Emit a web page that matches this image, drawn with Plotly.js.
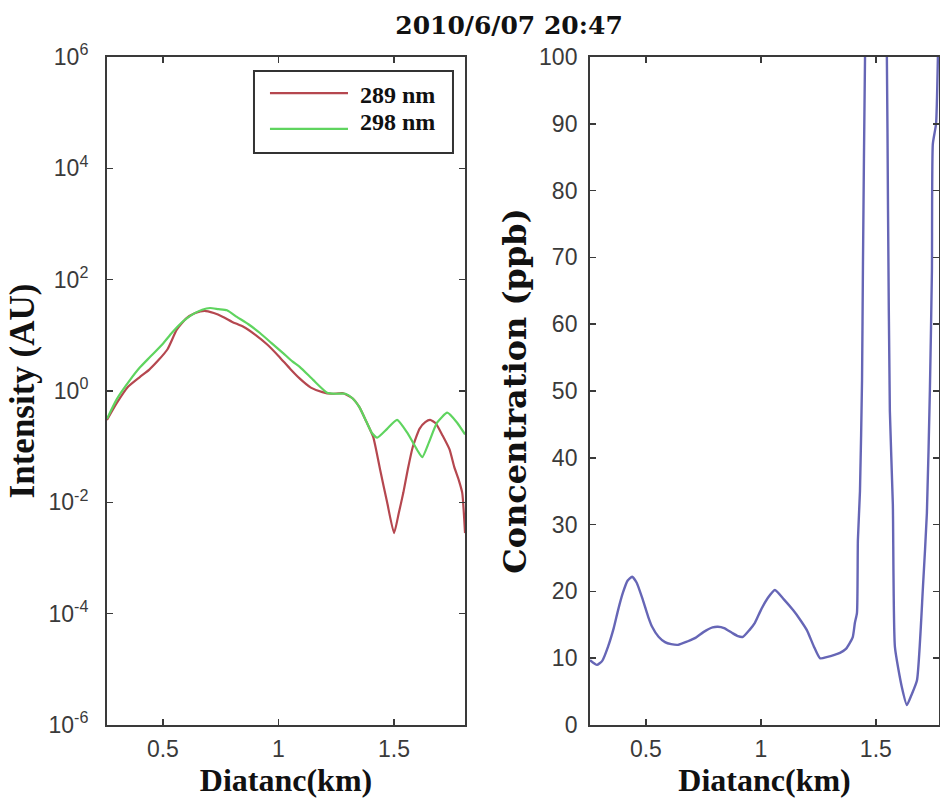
<!DOCTYPE html>
<html>
<head>
<meta charset="utf-8">
<script src="https://cdn.plot.ly/plotly-3.0.1.min.js"></script>
<style>html,body{margin:0;padding:0;background:#fff;}#chart{width:940px;height:802px;}</style>
</head>
<body>
<div id="chart"></div>
<script>
// ---- Data ----
const chartTitle = '2010/6/07 20:47';

// Left panel: intensity (AU) vs distance (km), log scale
const dist289 = [0.258,0.30,0.35,0.40,0.44,0.48,0.52,0.56,0.60,0.64,0.68,0.72,0.76,0.80,0.85,0.90,0.95,1.00,1.05,1.09,1.14,1.19,1.23,1.28,1.32,1.35,1.38,1.41,1.44,1.47,1.50,1.52,1.54,1.56,1.58,1.61,1.635,1.656,1.68,1.71,1.74,1.76,1.78,1.795,1.807];
const int289 = [0.302,0.603,1.20,1.78,2.40,3.55,5.62,12.6,20.0,25.1,27.5,25.1,21.4,17.4,14.1,10.2,6.92,4.27,2.51,1.70,1.15,0.955,0.891,0.912,0.741,0.513,0.282,0.148,0.038,0.010,0.0028,0.0063,0.0148,0.040,0.0955,0.209,0.275,0.302,0.263,0.158,0.089,0.0437,0.0251,0.0148,0.0028];

const dist298 = [0.258,0.30,0.358,0.40,0.444,0.50,0.54,0.587,0.63,0.67,0.704,0.74,0.777,0.82,0.87,0.92,0.97,1.02,1.06,1.093,1.15,1.21,1.25,1.29,1.32,1.35,1.38,1.405,1.427,1.47,1.513,1.557,1.60,1.622,1.65,1.686,1.73,1.773,1.807];
const int298 = [0.316,0.708,1.58,2.63,4.07,7.08,11.2,17.8,24.0,28.8,30.9,29.5,28.2,21.4,15.8,11.0,7.24,4.79,3.39,2.69,1.58,0.933,0.891,0.891,0.741,0.513,0.282,0.174,0.145,0.209,0.302,0.178,0.0871,0.0646,0.117,0.269,0.407,0.269,0.166];

const seriesNames = ['289 nm', '298 nm'];
const seriesColors = ['#b5474f', '#5fd45f'];

// Right panel: concentration (ppb) vs distance (km)
const distConc = [0.257,0.287,0.31,0.335,0.36,0.379,0.40,0.42,0.44,0.46,0.487,0.51,0.527,0.555,0.583,0.61,0.64,0.68,0.713,0.75,0.79,0.813,0.84,0.874,0.90,0.922,0.95,0.974,1.00,1.03,1.061,1.10,1.14,1.17,1.20,1.23,1.257,1.29,1.32,1.344,1.37,1.387,1.40,1.409,1.418,1.422,1.431,1.44,1.444,1.453,1.48,1.50,1.52,1.548,1.553,1.561,1.574,1.583,1.613,1.635,1.655,1.679,1.705,1.722,1.735,1.744,1.748,1.762,1.77,1.78];
const conc = [9.7,9.0,9.6,11.7,14.5,17.2,19.8,21.6,22.2,21.3,18.7,16.2,14.7,13.2,12.4,12.1,12.0,12.5,13.0,13.9,14.6,14.7,14.5,13.8,13.3,13.2,14.2,15.3,17.2,19.0,20.2,18.8,17.2,15.8,14.2,11.8,10.0,10.2,10.5,10.8,11.4,12.3,13.2,15.3,16.8,27.7,35,51.6,69,100,150,170,150,100,77,47,33,11.7,5.7,3.0,4.5,6.7,20.7,31.7,50,68,87,90,100,120];

// Tick labels
const xTickVals = [0.5, 1, 1.5];
const xTickText = ['0.5', '1', '1.5'];
const logTickVals = [1e-6, 1e-4, 1e-2, 1, 1e2, 1e4, 1e6];
const logTickText = ['10<sup>-6</sup>','10<sup>-4</sup>','10<sup>-2</sup>','10<sup>0</sup>','10<sup>2</sup>','10<sup>4</sup>','10<sup>6</sup>'];
const concTickVals = [0,10,20,30,40,50,60,70,80,90,100];

// ---- Styles ----
const axisColor = '#3a3a3a';
const tickFont = {family: '"Liberation Sans", Arial, sans-serif', size: 23, color: '#3a3a3a'};
const titleFont = {family: '"Liberation Serif", "Times New Roman", serif', size: 32, color: '#111', weight: 'bold'};
const yTitleFont = {family: '"Liberation Serif", "Times New Roman", serif', size: 35, color: '#111', weight: 'bold'};
const y2TitleFont = {family: '"DejaVu Serif", serif', size: 32, color: '#111', weight: 'bold'};
const legendFont = {family: '"Liberation Serif", "Times New Roman", serif', size: 24, color: '#111', weight: 'bold'};

function baseAxis(extra) {
  return Object.assign({
    showline: true, linecolor: axisColor, linewidth: 2,
    mirror: 'allticks', ticks: 'inside', ticklen: 6, tickwidth: 1.5, tickcolor: axisColor,
    showgrid: false, zeroline: false, tickfont: tickFont, fixedrange: true
  }, extra);
}

const traces = [
  {x: dist289, y: int289, name: seriesNames[0], type: 'scatter', mode: 'lines', showlegend: false,
   line: {color: seriesColors[0], width: 2.2, shape: 'spline', smoothing: 0.5}, xaxis: 'x', yaxis: 'y'},
  {x: dist298, y: int298, name: seriesNames[1], type: 'scatter', mode: 'lines', showlegend: false,
   line: {color: seriesColors[1], width: 2.2, shape: 'spline', smoothing: 0.5}, xaxis: 'x', yaxis: 'y'},
  {x: distConc, y: conc, name: 'Concentration', type: 'scatter', mode: 'lines', showlegend: false,
   line: {color: '#6666b6', width: 2.4, shape: 'spline', smoothing: 0.5}, xaxis: 'x2', yaxis: 'y2'}
];

// Legend box (drawn in paper coordinates, MATLAB-style long sample lines)
const legendShapes = [
  {type: 'rect', xref: 'paper', yref: 'paper', x0: 0.2702, x1: 0.4819, y0: 0.8092, y1: 0.9115,
   fillcolor: '#fff', line: {color: '#333', width: 2}},
  {type: 'line', xref: 'paper', yref: 'paper', x0: 0.2872, x1: 0.3702, y0: 0.8840, y1: 0.8840,
   line: {color: seriesColors[0], width: 2.2}},
  {type: 'line', xref: 'paper', yref: 'paper', x0: 0.2872, x1: 0.3702, y0: 0.8392, y1: 0.8392,
   line: {color: seriesColors[1], width: 2.2}}
];
const legendAnnotations = [
  {xref: 'paper', yref: 'paper', x: 0.3809, y: 0.8815, xanchor: 'left', yanchor: 'middle',
   text: seriesNames[0], showarrow: false, font: legendFont},
  {xref: 'paper', yref: 'paper', x: 0.3809, y: 0.8485, xanchor: 'left', yanchor: 'middle',
   text: seriesNames[1], showarrow: false, font: legendFont}
];

const layout = {
  width: 940, height: 802,
  margin: {l: 0, r: 0, t: 0, b: 0},
  paper_bgcolor: '#fff', plot_bgcolor: '#fff',
  title: {text: chartTitle, x: 0.5415, xanchor: 'center', y: 0.969, yanchor: 'middle',
          font: {family: '"DejaVu Serif", serif', size: 25, color: '#111', weight: 'bold'}},
  xaxis: baseAxis({domain: [0.1138, 0.4947], range: [0.258, 1.807], tickvals: xTickVals, ticktext: xTickText,
                   anchor: 'y', ticklabelstandoff: 2,
                   title: {text: 'Diatanc(km)', font: titleFont, standoff: 8}}),
  yaxis: baseAxis({domain: [0.096, 0.929], type: 'log', range: [-6, 6], tickvals: logTickVals, ticktext: logTickText,
                   anchor: 'x', ticklabelstandoff: 12,
                   title: {text: 'Intensity (AU)', font: yTitleFont, standoff: 3}}),
  xaxis2: baseAxis({domain: [0.6277, 0.999], range: [0.257, 1.775], tickvals: xTickVals, ticktext: xTickText,
                    anchor: 'y2', ticklabelstandoff: 2,
                    title: {text: 'Diatanc(km)', font: titleFont, standoff: 8}}),
  yaxis2: baseAxis({domain: [0.096, 0.929], range: [0, 100], tickvals: concTickVals,
                    anchor: 'x2', ticklabelstandoff: 6,
                    title: {text: 'Concentration (ppb)', font: y2TitleFont, standoff: 3}}),
  showlegend: false,
  shapes: legendShapes,
  annotations: legendAnnotations
};

Plotly.newPlot('chart', traces, layout, {staticPlot: true, displayModeBar: false});
</script>
</body>
</html>
